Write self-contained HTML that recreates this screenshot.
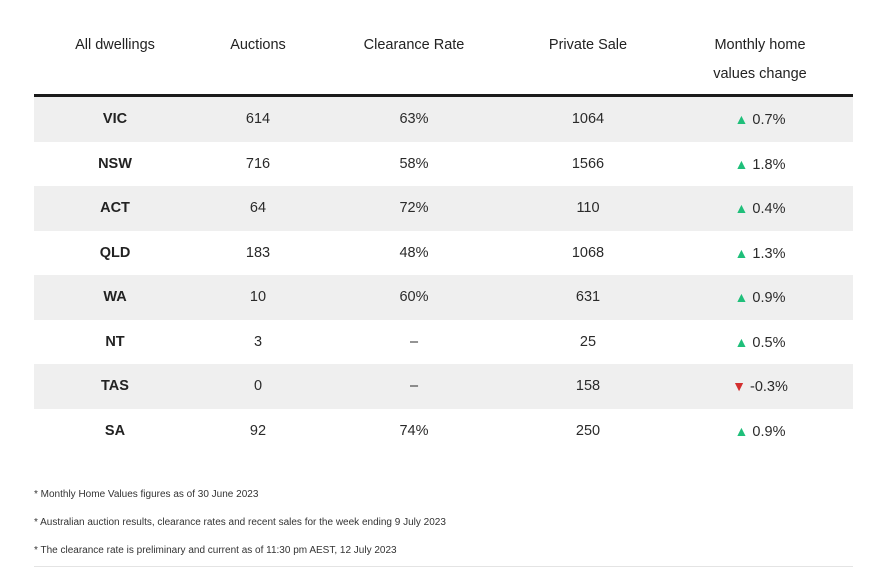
<!DOCTYPE html>
<html><head><meta charset="utf-8"><style>
body{margin:0;width:871px;height:568px;background:#fff;font-family:"Liberation Sans",sans-serif;color:#333;position:relative;overflow:hidden}
.h{position:absolute;font-size:14.5px;color:#222;text-align:center;line-height:29px}
.rule{position:absolute;left:34px;width:819px;top:94px;height:3px;background:#1a1a1a}
.row{position:absolute;left:34px;width:819px;height:44.5px}
.row.g{background:#efefef}
.c{position:absolute;top:0;height:44.5px;line-height:44.5px;font-size:14.5px;text-align:center;transform:translateX(-50%);white-space:nowrap;color:#2a2a2a}
.st{color:#222;font-weight:bold}
.up{color:#1fbf7a;font-size:14px}
.dn{color:#d32f2f;font-size:14px}
.fn{position:absolute;left:34px;font-size:10px;color:#333}
.bl{position:absolute;left:34px;width:819px;top:566px;height:1px;background:#e4e4e4}
</style></head><body>
<div class="h" style="left:55px;width:120px;top:31px">All dwellings</div>
<div class="h" style="left:198px;width:120px;top:31px">Auctions</div>
<div class="h" style="left:339px;width:150px;top:31px">Clearance Rate</div>
<div class="h" style="left:513px;width:150px;top:31px">Private Sale</div>
<div class="h" style="left:680px;width:160px;top:31px">Monthly home<br>values change</div>
<div class="rule"></div>
<div id="rows"></div>
<div class="fn" style="top:489px">* Monthly Home Values figures as of 30 June 2023</div>
<div class="fn" style="top:517px">* Australian auction results, clearance rates and recent sales for the week ending 9 July 2023</div>
<div class="fn" style="top:545px">* The clearance rate is preliminary and current as of 11:30 pm AEST, 12 July 2023</div>
<div class="bl"></div>
<script>
const states=["VIC","NSW","ACT","QLD","WA","NT","TAS","SA"];
const auctions=[614,716,64,183,10,3,0,92];
const clearance=["63%","58%","72%","48%","60%","–","–","74%"];
const privateSale=[1064,1566,110,1068,631,25,158,250];
const change=[0.7,1.8,0.4,1.3,0.9,0.5,-0.3,0.9];
const cx=[81,224,380,554,726];
const wrap=document.getElementById('rows');
states.forEach((s,i)=>{
  const r=document.createElement('div');
  
  
  r.className='row'+(i%2===0?' g':'');
  r.style.top=(97+44.5*i)+'px';
  const ch=change[i];
  const arrow=ch>=0?'<span class="up">▲</span> ':'<span class="dn">▼</span> ';
  const vals=['<span class="st">'+s+'</span>',auctions[i],clearance[i],privateSale[i],arrow+ch.toFixed(1)+'%'];
  vals.forEach((v,j)=>{
    const c=document.createElement('div');
    
    
    c.className='c';
    c.style.left=cx[j]+'px';
    c.innerHTML=v;
    r.appendChild(c);
  });
  wrap.appendChild(r);
});
</script>
</body></html>
